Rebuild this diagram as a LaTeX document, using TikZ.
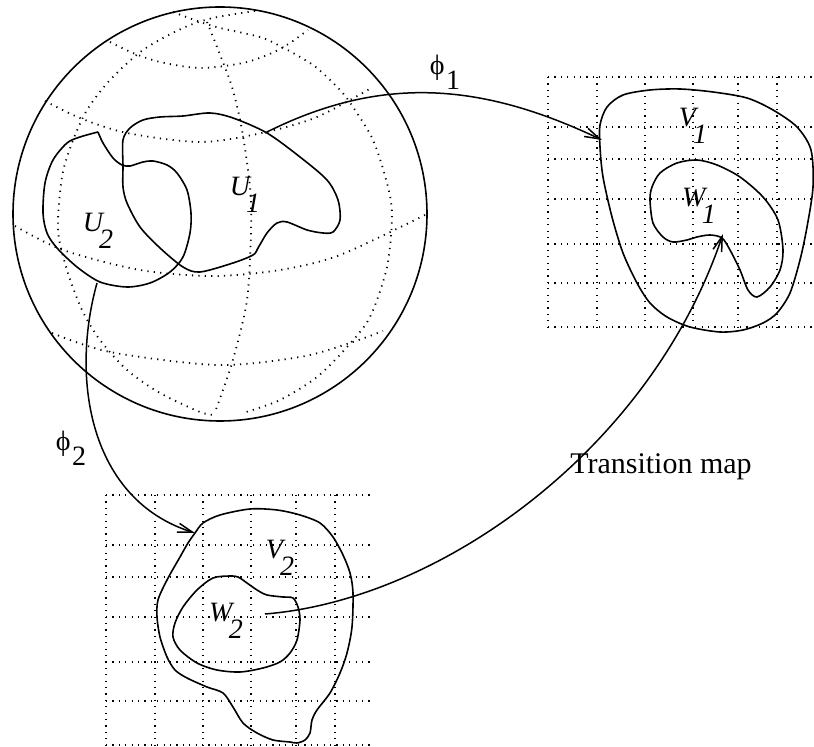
\documentclass[tikz,border=0pt]{standalone}
\usepackage{fontspec}
\setmainfont{Liberation Serif}
\usetikzlibrary{arrows.meta}
\newcommand{\chartname}[2]{\textit{#1}\kern-0.2em\raisebox{-0.6em}{\textit{#2}}}
\newcommand{\mapname}[1]{ϕ\kern0.05em\raisebox{-0.55em}{#1}}

\begin{document}
\begin{tikzpicture}[
x=0.5pt, y=-0.5pt,
outline/.style={line width=0.8pt},
latlong/.style={line width=0.9pt, dash pattern=on 0.6pt off 2.6pt},
gridline/.style={line width=0.9pt, dash pattern=on 0.6pt off 2.6pt},
mapto/.style={line width=0.75pt, -{Straight Barb[length=7.5pt,width=4.5pt]}},
chartlabel/.style={font=\fontsize{14}{16}\selectfont, inner sep=0pt}
]
\useasboundingbox (0,0) rectangle (814,747);

% the two coordinate grids
\foreach \gx/\gy in {548/77, 106/495} {
  \foreach \dx in {0,49,97,145,190,229}
    \draw[gridline] (\gx+\dx,\gy) -- (\gx+\dx,\gy+250);
  \foreach \dy in {0,50,82,122,167,206,250}
    \draw[gridline] (\gx,\gy+\dy) -- (\gx+266,\gy+\dy);
}

% the globe
\draw[outline] (220,214) circle[radius=207];
\draw[latlong] plot[smooth] coordinates {(110,42) (133,53) (160,62) (200,68) (243,63) (272,53) (290,43) (308,30)};
\draw[latlong] plot[smooth] coordinates {(45,101) (80,118) (127,133) (200,142) (262,133) (317,117) (373,87)};
\draw[latlong] plot[smooth] coordinates {(15,226) (63,250) (140,270) (213,276) (280,270) (340,255) (425,215)};
\draw[latlong] plot[smooth] coordinates {(52,333) (110,352) (217,365) (300,357) (350,343) (383,331)};
\draw[latlong] plot[smooth] coordinates {(255,11) (213,18) (183,28) (143,50) (110,80) (87,110) (72,143) (62,177) (58,230) (67,270) (82,310) (100,340) (127,370) (160,393) (200,412) (215,415)};
\draw[latlong] plot[smooth] coordinates {(207,22) (217,47) (232,87) (242,130) (250,187) (251,230) (247,300) (232,363) (215,412)};
\draw[latlong] plot[smooth] coordinates {(173,12) (200,22) (220,28) (243,33) (263,38) (282,47) (300,57) (317,68) (340,90) (353,107) (373,140) (387,183) (392,215) (387,267) (370,317) (347,347) (317,377) (280,400) (243,413)};

% charts U1, U2 on the globe
\draw[outline] plot[smooth cycle] coordinates {(123,140) (130,128) (143,120) (160,117) (183,116) (210,113) (233,118) (267,133) (300,157) (327,180) (338,200) (340,220) (333,232) (323,233) (307,230) (287,222) (277,223) (267,233) (258,248) (253,255) (233,263) (200,272) (183,267) (160,248) (140,227) (127,203) (123,187) (123,167)};
\draw[outline] plot[smooth] coordinates {(98,132) (80,137) (67,143) (53,160) (45,183) (43,213) (47,233) (57,248) (77,267) (100,282) (127,287) (150,283) (170,272) (183,257) (190,233) (191,213) (187,190) (177,173) (167,165) (153,161) (143,162) (130,166) (122,165) (113,158) (103,143) (98,132)};

% images V1, W1 and V2, W2
\draw[outline] plot[smooth cycle] coordinates {(600,125) (607,107) (623,95) (650,90) (680,89) (713,92) (747,98) (773,110) (797,127) (811,150) (813,187) (807,227) (800,260) (790,293) (777,313) (763,323) (743,330) (720,332) (690,327) (667,317) (650,303) (637,283) (623,253) (612,217) (603,177) (600,147)};
\draw[outline] plot[smooth cycle] coordinates {(650,200) (652,187) (660,173) (677,163) (697,160) (717,165) (740,177) (763,197) (778,220) (783,250) (780,270) (770,287) (757,297) (748,290) (740,270) (730,250) (722,238) (710,235) (697,237) (687,240) (673,242) (663,237) (653,223)};
\draw[outline] plot[smooth cycle] coordinates {(203,523) (220,515) (250,509) (277,510) (300,515) (320,523) (333,537) (343,555) (350,573) (353,593) (352,627) (347,653) (340,673) (330,693) (317,710) (312,720) (310,733) (305,740) (297,743) (290,742) (273,740) (257,733) (243,723) (233,707) (223,693) (207,687) (187,678) (175,670) (167,657) (160,637) (157,617) (158,600) (167,580) (180,557) (188,543) (195,533)};
\draw[outline] plot[smooth cycle] coordinates {(238,577) (230,576) (213,578) (197,590) (183,607) (175,623) (173,637) (180,650) (197,663) (217,670) (240,672) (263,668) (280,662) (290,653) (297,640) (300,620) (298,607) (293,598) (283,597) (267,595) (257,590) (247,583)};

% labels
\node[chartlabel] (u1) at (245,195) {\chartname{U}{1}};
\node[chartlabel] (u2) at (98,231) {\chartname{U}{2}};
\node[chartlabel] (v1) at (693,126) {\chartname{V}{1}};
\node[chartlabel] (w1) at (699,206) {\chartname{W}{1}};
\node[chartlabel] (v2) at (280,558) {\chartname{V}{2}};
\node[chartlabel] (w2) at (226,621) {\chartname{W}{2}};
\node[chartlabel] (phi1) at (445,72) {\mapname{1}};
\node[chartlabel] (phi2) at (71,448) {\mapname{2}};
\node[chartlabel, font=\fontsize{15}{17}\selectfont] (trans) at (661,467) {Transition map};

% ends of the maps
\coordinate (u1out) at (265,133);
\coordinate (v1in) at (602,140);
\coordinate (u2out) at (97,283);
\coordinate (v2in) at (195,533);
\coordinate (w2out) at (265,614);
\coordinate (w1in) at (723,234);

\draw[mapto] (u1out) .. controls (380,75) and (480,82) .. (v1in);
\draw[mapto] (u2out) .. controls (70,380) and (90,500) .. (v2in);
\draw[mapto] (w2out) .. controls (440,600) and (650,450) .. (w1in);
\end{tikzpicture}
\end{document}
